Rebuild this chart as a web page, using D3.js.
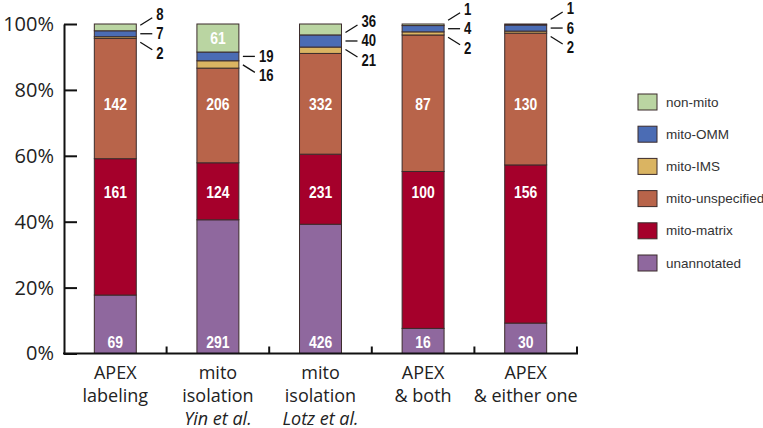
<!DOCTYPE html>
<html>
<head>
<meta charset="utf-8">
<script src="https://cdn.jsdelivr.net/npm/d3@7"></script>
<style>
  html, body { margin: 0; padding: 0; background: #fff; }
  svg { display: block; }
</style>
</head>
<body>
<svg id="chart" width="763" height="428"></svg>
<script>
// ---- data ----
const categories = ["APEX labeling", "mito isolation Yin", "mito isolation Lotz", "APEX both", "APEX either"];
const categoryLines = [
  ["APEX", "labeling"],
  ["mito", "isolation", "Yin et al."],
  ["mito", "isolation", "Lotz et al."],
  ["APEX", "& both"],
  ["APEX", "& either one"]
];
const seriesNames = ["unannotated", "mito-matrix", "mito-unspecified", "mito-IMS", "mito-OMM", "non-mito"];
const unannotated     = [69, 291, 426, 16, 30];
const mitoMatrix      = [161, 124, 231, 100, 156];
const mitoUnspecified = [142, 206, 332, 87, 130];
const mitoIMS         = [2, 16, 21, 2, 2];
const mitoOMM         = [7, 19, 40, 4, 6];
const nonMito         = [8, 61, 36, 1, 1];
const yTicks = [0, 0.2, 0.4, 0.6, 0.8, 1];
const legendOrder = ["non-mito", "mito-OMM", "mito-IMS", "mito-unspecified", "mito-matrix", "unannotated"];

(function () {
const seriesValues = {
  "unannotated": unannotated,
  "mito-matrix": mitoMatrix,
  "mito-unspecified": mitoUnspecified,
  "mito-IMS": mitoIMS,
  "mito-OMM": mitoOMM,
  "non-mito": nonMito
};
const colors = {
  "non-mito": "#bad5a2",
  "mito-OMM": "#4b6cb4",
  "mito-IMS": "#dab462",
  "mito-unspecified": "#b8644a",
  "mito-matrix": "#a5002b",
  "unannotated": "#8f689e"
};

const table = categories.map((c, i) => {
  const row = { category: c };
  seriesNames.forEach(s => row[s] = seriesValues[s][i]);
  return row;
});

// ---- layout ----
const svg = d3.select("#chart");
const mLeft = 64, mRight = 577, mTop = 24, mBottom = 353.5;
const pad = 0.591;
const x = d3.scaleBand().domain(categories).range([mLeft, mRight]).paddingInner(pad).paddingOuter(pad / 2);
const y = d3.scaleLinear().domain([0, 1]).range([mBottom, mTop]);

const stacked = d3.stack().keys(seriesNames).offset(d3.stackOffsetExpand)(table);

const numFont = "'Liberation Sans', Arial, sans-serif";
const squeeze = 0.82;
const axisFont = "'Open Sans', 'Noto Sans', sans-serif";

// bars
const layers = svg.append("g").selectAll("g").data(stacked).join("g")
  .attr("fill", d => colors[d.key]);
layers.selectAll("rect").data(d => d.map(p => ({ p, key: d.key }))).join("rect")
  .attr("x", d => x(d.p.data.category))
  .attr("width", x.bandwidth())
  .attr("y", d => y(d.p[1]))
  .attr("height", d => y(d.p[0]) - y(d.p[1]))
  .attr("stroke", "#3b2b2b")
  .attr("stroke-width", 1);

// inside labels
const insideRow = { "unannotated": 0.035, "mito-matrix": 0.49, "mito-unspecified": 0.757 };
const inside = [];
const callouts = [];
stacked.forEach(layer => {
  layer.forEach(p => {
    const share = p[1] - p[0];
    const value = p.data[layer.key];
    if (share >= 0.05) {
      const frac = insideRow[layer.key] !== undefined ? insideRow[layer.key] : (p[0] + p[1]) / 2;
      inside.push({ cat: p.data.category, value, frac });
    } else {
      callouts.push({ cat: p.data.category, key: layer.key, value });
    }
  });
});

svg.append("g").selectAll("text").data(inside).join("text")
  .attr("transform", d => `translate(${x(d.cat) + x.bandwidth() / 2},${y(d.frac)}) scale(${squeeze},1)`)
  .attr("text-anchor", "middle")
  .attr("dominant-baseline", "central")
  .attr("fill", "#fff")
  .attr("font-family", numFont)
  .attr("font-weight", "bold")
  .attr("font-size", 17)
  .text(d => d.value);

// callouts: anchored at OMM segment center
const omm = stacked.find(l => l.key === "mito-OMM");
const midY = {};
omm.forEach(p => midY[p.data.category] = y((p[0] + p[1]) / 2));
const dir = { "non-mito": -1, "mito-OMM": 0, "mito-IMS": 1 };
const cg = svg.append("g");
callouts.forEach(d => {
  const rx = x(d.cat) + x.bandwidth();
  const m = midY[d.cat];
  const k = dir[d.key];
  cg.append("line")
    .attr("x1", rx + 4).attr("x2", rx + 16)
    .attr("y1", m + k * 8.5).attr("y2", m + k * 16)
    .attr("stroke", "#111").attr("stroke-width", 1.3);
  cg.append("text")
    .attr("transform", `translate(${rx + 20},${m + k * 19.5}) scale(${squeeze},1)`)
    .attr("dominant-baseline", "central")
    .attr("font-family", numFont)
    .attr("font-weight", "bold")
    .attr("font-size", 16)
    .attr("fill", "#111")
    .text(d.value);
});

// y axis
const yAxis = svg.append("g").attr("transform", `translate(${mLeft},0)`)
  .call(d3.axisLeft(y).tickValues(yTicks).tickFormat(d3.format(".0%")).tickSize(-13).tickSizeOuter(0).tickPadding(10));
yAxis.select(".domain").attr("stroke", "#111").attr("stroke-width", 2);
yAxis.selectAll(".tick line").attr("stroke", "#111").attr("stroke-width", 2);
yAxis.selectAll(".tick text").attr("font-family", axisFont).attr("font-size", 20).attr("fill", "#222");

// x axis baseline and boundary ticks
const xg = svg.append("g");
xg.append("line").attr("x1", mLeft - 1).attr("x2", mRight + 1).attr("y1", mBottom).attr("y2", mBottom)
  .attr("stroke", "#111").attr("stroke-width", 2);
const boundaries = categories.map(c => x(c) + x.bandwidth() + x.step() * pad / 2);
xg.selectAll("line.tk").data(boundaries).join("line").attr("class", "tk")
  .attr("x1", d => d).attr("x2", d => d)
  .attr("y1", mBottom).attr("y2", mBottom - 7)
  .attr("stroke", "#111").attr("stroke-width", 2);

// category labels
const lab = svg.append("g").selectAll("text").data(categories).join("text")
  .attr("x", d => x(d) + x.bandwidth() / 2)
  .attr("text-anchor", "middle")
  .attr("font-family", axisFont)
  .attr("font-size", 18)
  .attr("fill", "#222");
lab.each(function (c, i) {
  const t = d3.select(this);
  categoryLines[i].forEach((line, j) => {
    t.append("tspan")
      .attr("x", x(c) + x.bandwidth() / 2)
      .attr("y", 378.5 + j * 23)
      .attr("font-style", line.includes("et al.") ? "italic" : "normal")
      .text(line);
  });
});

// legend
const lg = svg.append("g").selectAll("g").data(legendOrder).join("g")
  .attr("transform", (d, i) => `translate(638,${102 + i * 32.2})`);
lg.append("rect").attr("x", 0).attr("y", -8).attr("width", 19).attr("height", 16)
  .attr("fill", d => colors[d]).attr("stroke", "#3b2b2b").attr("stroke-width", 1);
lg.append("text").attr("x", 28).attr("y", 0).attr("dominant-baseline", "central")
  .attr("font-family", "'Liberation Sans', Arial, sans-serif").attr("font-size", 13.5)
  .attr("fill", "#333").text(d => d);
})();
</script>
</body>
</html>
